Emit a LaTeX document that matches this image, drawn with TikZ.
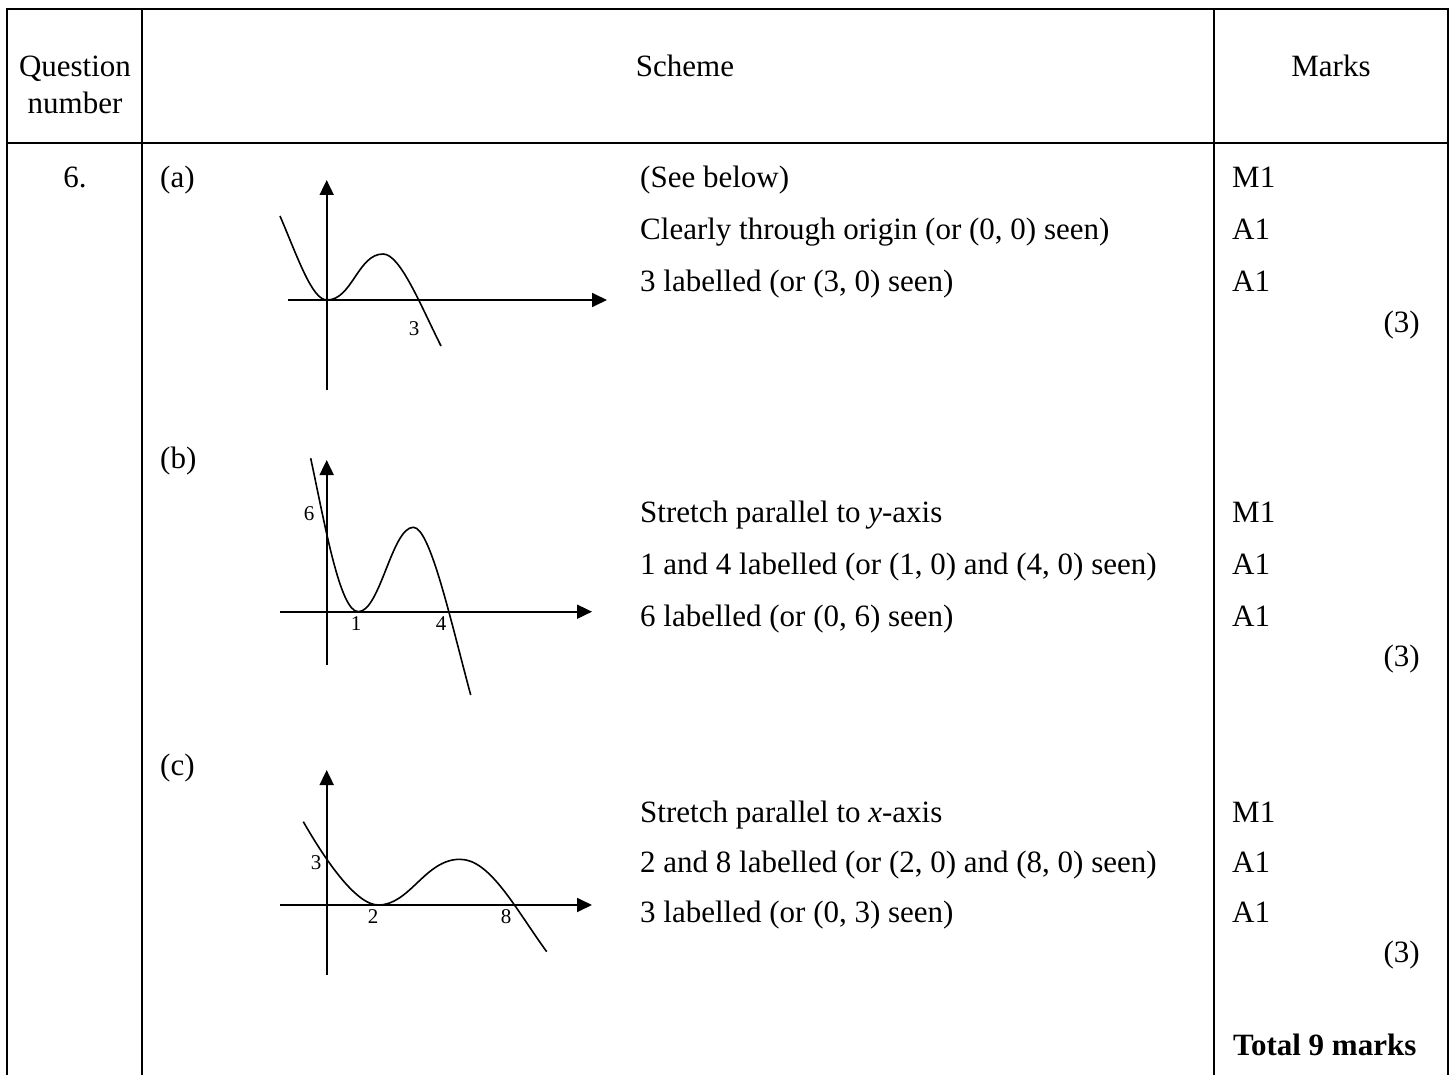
\documentclass[tikz,border=0pt]{standalone}
\usepackage{fontspec}
\setmainfont{Liberation Serif}
\usetikzlibrary{arrows.meta}

\tikzset{
	rule/.style={line width=1.6pt},
	axis/.style={line width=1.8pt, -{Triangle[length=15pt,width=14pt]}},
	curve/.style={line width=1.6pt},
	txt/.style={anchor=base west, inner sep=0pt},
	mid/.style={anchor=base, inner sep=0pt},
	lbl/.style={anchor=base, inner sep=0pt, font=\fontsize{21}{25}\selectfont},
}

\begin{document}
\begin{tikzpicture}[x=1pt, y=-1pt, every node/.style={font=\fontsize{31}{37}\selectfont}]
			%%%%% START %%%%%
			\useasboundingbox (0, 0) rectangle (1456, 1075);
			
			% table
			\draw[rule] (7, 1075) -- (7, 9) -- (1448, 9) -- (1448, 1075);
			\draw[rule] (7, 143) -- (1448, 143);
			\draw[rule] (142, 9) -- (142, 1075);
			\draw[rule] (1214, 9) -- (1214, 1075);
			
			\node[mid] (qhead) at (75, 77) {Question};
			\node[mid] (nhead) at (75, 114) {number};
			\node[mid] (shead) at (685, 77) {Scheme};
			\node[mid] (mhead) at (1331, 77) {Marks};
			\node[mid] (qnum) at (75, 188) {6.};
			
			% (a)
			\node[txt] (parta) at (160, 188) {(a)};
			\draw[axis] (326.7, 390) -- (326.7, 180);
			\draw[axis] (288, 300) -- (607, 300);
			\draw[curve] (280, 216) .. controls (298, 258) and (312, 300) .. (327, 300)
				.. controls (352, 300) and (358, 254) .. (383, 254)
				.. controls (400, 254) and (420, 304) .. (441, 346);
			\node[lbl] (a3) at (414, 335) {3};
			
			\node[txt] (a1) at (640, 188) {(See below)};
			\node[txt] (a2) at (640, 240) {Clearly through origin (or (0, 0) seen)};
			\node[txt] (a3t) at (640, 292) {3 labelled (or (3, 0) seen)};
			\node[txt] (am1) at (1232, 188) {M1};
			\node[txt] (am2) at (1232, 240) {A1};
			\node[txt] (am3) at (1232, 292) {A1};
			\node[anchor=base east, inner sep=0pt] (atot) at (1420, 332) {(3)};
			
			% (b)
			\node[txt] (partb) at (160, 468) {(b)};
			\draw[axis] (326.7, 665) -- (326.7, 460);
			\draw[axis] (280, 611.7) -- (592, 611.7);
			\draw[curve] (310.7, 458.3) .. controls (325, 525) and (340, 611.7) .. (358.3, 611.7)
				.. controls (380, 611.7) and (392, 527.3) .. (413.3, 527.3)
				.. controls (430, 527.3) and (450, 618) .. (470.7, 695);
			\node[lbl] (b6) at (309, 520) {6};
			\node[lbl] (b1) at (356, 630) {1};
			\node[lbl] (b4) at (441, 630) {4};
			
			\node[txt] (b1t) at (640, 522) {Stretch parallel to \textit{y}-axis};
			\node[txt] (b2t) at (640, 574) {1 and 4 labelled (or (1, 0) and (4, 0) seen)};
			\node[txt] (b3t) at (640, 626) {6 labelled (or (0, 6) seen)};
			\node[txt] (bm1) at (1232, 522) {M1};
			\node[txt] (bm2) at (1232, 574) {A1};
			\node[txt] (bm3) at (1232, 626) {A1};
			\node[anchor=base east, inner sep=0pt] (btot) at (1420, 666) {(3)};
			
			% (c)
			\node[txt] (partc) at (160, 775) {(c)};
			\draw[axis] (326.7, 975) -- (326.7, 770);
			\draw[axis] (280, 905) -- (592, 905);
			\draw[curve] (303.3, 821.7) .. controls (323, 856) and (355, 905) .. (378.3, 905)
				.. controls (410, 905) and (425, 859.3) .. (460, 859.3)
				.. controls (490, 859.3) and (515, 908) .. (546.7, 951.7);
			\node[lbl] (c3) at (316, 869) {3};
			\node[lbl] (c2) at (373, 923) {2};
			\node[lbl] (c8) at (506, 923) {8};
			
			\node[txt] (c1t) at (640, 822) {Stretch parallel to \textit{x}-axis};
			\node[txt] (c2t) at (640, 872) {2 and 8 labelled (or (2, 0) and (8, 0) seen)};
			\node[txt] (c3t) at (640, 922) {3 labelled (or (0, 3) seen)};
			\node[txt] (cm1) at (1232, 822) {M1};
			\node[txt] (cm2) at (1232, 872) {A1};
			\node[txt] (cm3) at (1232, 922) {A1};
			\node[anchor=base east, inner sep=0pt] (ctot) at (1420, 962) {(3)};
			
			\node[txt] (total) at (1233, 1055) {\textbf{Total 9 marks}};
			%%%%% END %%%%%
\end{tikzpicture}
\end{document}
